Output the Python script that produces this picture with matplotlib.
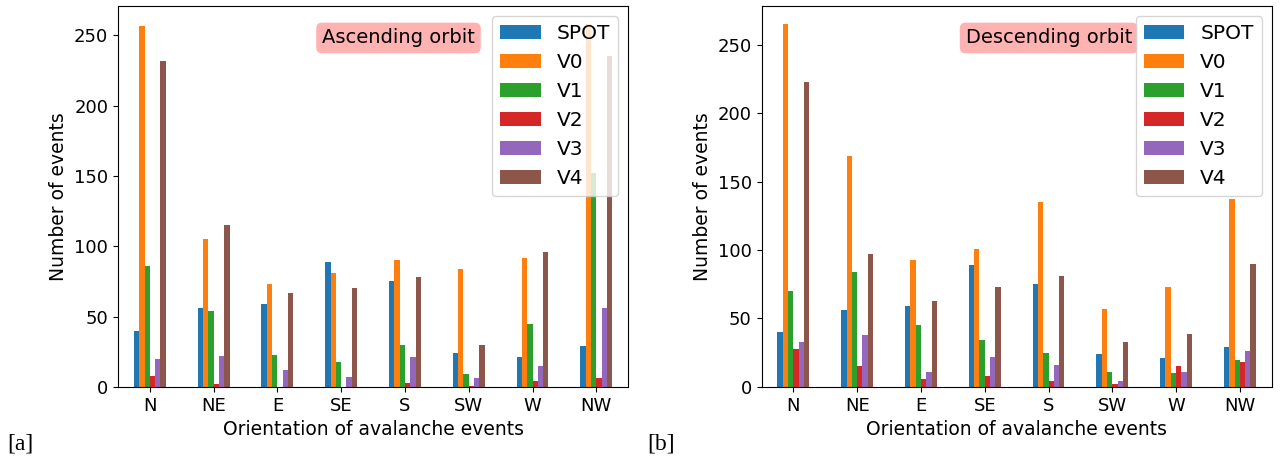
import numpy as np
import matplotlib
matplotlib.use("Agg")
import matplotlib.pyplot as plt

directions = ["N", "NE", "E", "SE", "S", "SW", "W", "NW"]
series = ["SPOT", "V0", "V1", "V2", "V3", "V4"]

# ascending orbit
asc_spot = [40, 56, 59, 89, 75, 24, 21, 29]
asc_v0 = [257, 105, 73, 81, 90, 84, 92, 258]
asc_v1 = [86, 54, 23, 18, 30, 9, 45, 152]
asc_v2 = [8, 2, 0, 0, 3, 1, 4, 6]
asc_v3 = [20, 22, 12, 7, 21, 6, 15, 56]
asc_v4 = [232, 115, 67, 70, 78, 30, 96, 235]

# descending orbit
desc_spot = [40, 56, 59, 89, 75, 24, 21, 29]
desc_v0 = [265, 169, 93, 101, 135, 57, 73, 137]
desc_v1 = [70, 84, 45, 34, 25, 11, 10, 20]
desc_v2 = [28, 15, 6, 8, 4, 2, 15, 18]
desc_v3 = [33, 38, 11, 22, 16, 4, 11, 26]
desc_v4 = [223, 97, 63, 73, 81, 33, 39, 90]

asc = [asc_spot, asc_v0, asc_v1, asc_v2, asc_v3, asc_v4]
desc = [desc_spot, desc_v0, desc_v1, desc_v2, desc_v3, desc_v4]
colors = ["#1f77b4", "#ff7f0e", "#2ca02c", "#d62728", "#9467bd", "#8c564b"]

fig = plt.figure(figsize=(12.82, 4.59), dpi=100)
ax1 = fig.add_axes([0.092, 0.157, 0.398, 0.830])
ax2 = fig.add_axes([0.594, 0.157, 0.398, 0.830])


def draw(ax, data, title):
    x = np.arange(len(directions))
    w = 0.5 / len(series)
    for i, (name, vals) in enumerate(zip(series, data)):
        ax.bar(x - 0.25 + w * (i + 0.5), vals, w, color=colors[i], label=name)
    ax.set_xlim(-0.5, len(directions) - 0.5)
    ax.set_xticks(x)
    ax.set_xticklabels(directions)
    ax.tick_params(labelsize=13)
    ax.set_xlabel("Orientation of avalanche events", fontsize=13.5)
    ax.set_ylabel("Number of events", fontsize=13.5)
    ax.text(0.4, 0.916, title, transform=ax.transAxes, fontsize=14,
            va="center", ha="left",
            bbox=dict(boxstyle="round", facecolor="red", edgecolor="none", alpha=0.3))
    ax.legend(loc="upper right", fontsize=14.5)


draw(ax1, asc, "Ascending orbit")
draw(ax2, desc, "Descending orbit")

fig.text(0.006, 0.02, "[a]", fontsize=17, family="Liberation Serif")
fig.text(0.505, 0.02, "[b]", fontsize=17, family="Liberation Serif")

fig.savefig("out.png", dpi=100)
